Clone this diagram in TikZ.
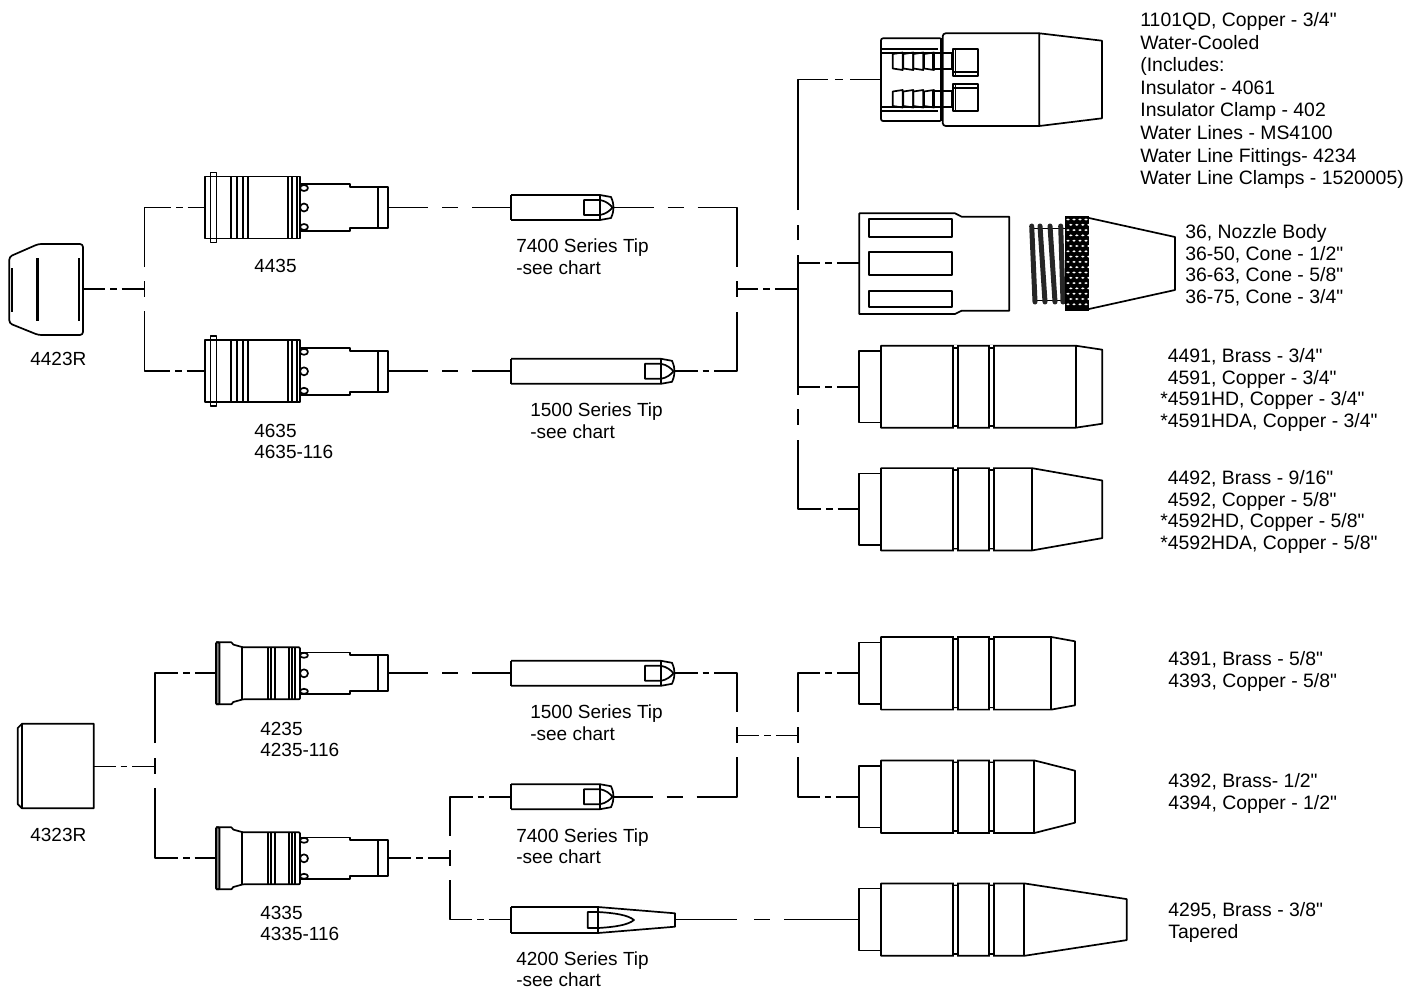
\documentclass[tikz,border=0pt]{standalone}
\usepackage{fontspec}
\newfontfamily\partfont{Liberation Sans}
\usepackage{tikz}

\tikzset{
    partlabel/.style={font=\partfont\fontsize{19pt}{21.5pt}\selectfont, align=left, anchor=north west, inner sep=0pt},
    listlabel/.style={partlabel, font=\partfont\fontsize{19.4pt}{21.5pt}\selectfont},
    widelabel/.style={partlabel, font=\partfont\fontsize{19.4pt}{22.6pt}\selectfont},
    shortlink/.style={dash pattern=on #1pt off 5pt on 6.5pt off 5pt on 999pt},
    longlink/.style={dash pattern=on #1pt off 14pt on 16pt off 14pt on 999pt},
    pics/bodylong/.style={code={
        \coordinate (-in) at (0,0);
        \coordinate (-out) at (183.3,0);
        \draw (0,-31) rectangle (95,31);
        \draw (5.5,-35) rectangle (11.5,35);
        \foreach \g in {25.7,32.3,38.3,43.3,83.3,86.7,91.7} {\draw (\g,-31) -- (\g,31);}
        \draw (99,-19.5) ellipse (4 and 3) (99,0) circle (4) (99,19.5) ellipse (4 and 3);
        \draw (95,-23.5) -- (145,-23.5) -- (145,-20.5) -- (183.3,-20.5) -- (183.3,20.5) -- (145,20.5) -- (145,23.5) -- (95,23.5);
        \draw (173.3,-20.5) -- (173.3,20.5);
    }},
    pics/bodyshort/.style={code={
        \coordinate (-in) at (0,0);
        \coordinate (-out) at (172.3,0);
        \draw[fill=gray, rounded corners=1pt] (0,-31) rectangle (3.5,31);
        \draw[rounded corners=1pt] (0,-31) -- (16.3,-31) -- (16.3,-29) -- (27,-26) -- (84,-26) -- (84,26) -- (27,26) -- (16.3,29) -- (16.3,31) -- (0,31);
        \foreach \g in {26.3,52.3,54.7,59,73.3,75.7,79} {\draw (\g,-26) -- (\g,26);}
        \draw (88,-18) ellipse (4 and 2.5) (88,0) circle (4) (88,18) ellipse (4 and 2.5);
        \draw (84,-20.7) -- (134,-20.7) -- (134,-18) -- (172.3,-18) -- (172.3,18) -- (134,18) -- (134,20.7) -- (84,20.7);
        \draw (162.3,-18) -- (162.3,18);
    }},
    pics/tipround/.style={code={
        \coordinate (-in) at (0,0);
        \coordinate (-out) at (#1+13.5,0);
        \draw[line width=2.5pt] (0,-12.5) -- (0,12.5);
        \draw (0,-12.5) -- (#1,-12.5) -- (#1+11,-10.5) .. controls (#1+13,-6) and (#1+13.5,-3) .. (#1+13.5,0) .. controls (#1+13.5,3) and (#1+13,6) .. (#1+11,10.5) -- (#1,12.5) -- (0,12.5);
        \draw (#1,-12.5) -- (#1,12.5);
        \draw (#1,-7.5) -- (#1-16,-7.5) -- (#1-16,7.5) -- (#1,7.5) .. controls (#1+6,6.5) and (#1+10,3) .. (#1+12.5,0) .. controls (#1+10,-3) and (#1+6,-6.5) .. (#1,-7.5);
    }},
    pics/nozzle/.style n args={5}{code={
        \coordinate (-in) at (0,0);
        \draw (0,-#1) rectangle (21.7,#1);
        \draw (21.7,-#2) -- (#3,-#2) -- (#4,-#5) -- (#4,#5) -- (#3,#2) -- (21.7,#2) -- cycle;
        \draw (#3,-#2) -- (#3,#2);
        \foreach \g in {94,99,129.7,134.7} {\draw (\g,-#2) -- (\g,#2);}
        \foreach \g in {94,129.7} {
            \draw[white, line width=2pt] (\g+0.9,-#2) -- (\g+4.1,-#2) (\g+0.9,#2) -- (\g+4.1,#2);
            \draw (\g,-#2+2) -- (\g+5,-#2+2) (\g,#2-2) -- (\g+5,#2-2);
        }
    }},
}

\begin{document}
\begin{tikzpicture}[x=1pt, y=-1pt, line width=1.7pt, line join=round]
    \useasboundingbox (0,0) rectangle (1413,990);

    % Gas cups
    \coordinate (CupA-out) at (83,289.3);
    \draw[rounded corners=3pt] (9.3,256.7) -- (38.3,244) -- (83,244) -- (83,335) -- (38.3,335) -- (9.3,323.3) -- cycle;
    \draw (12.3,268.3) -- (12.3,311.7);
    \draw[line width=2.5pt] (37.7,258.3) -- (37.7,320.7);
    \draw (79,258.3) -- (79,320.7);

    \coordinate (CupB-out) at (93.7,766.4);
    \draw (22,723.7) -- (93.7,723.7) -- (93.7,808.3) -- (22,808.3) -- (17.7,804) -- (17.7,728) -- cycle;
    \draw (22,723.7) -- (22,808.3);

    % Bodies
    \pic (BodyA) at (205,207.5) {bodylong};
    \pic (BodyB) at (205,371.3) {bodylong};
    \pic (BodyC) at (216,673.3) {bodyshort};
    \pic (BodyD) at (216,858.3) {bodyshort};

    % Tips
    \pic (TipA) at (511,207.5) {tipround=89};
    \pic (TipB) at (511,371.3) {tipround=150};
    \pic (TipC) at (511,673.3) {tipround=150};
    \pic (TipD) at (511,796.7) {tipround=89};

    \coordinate (TipE-in) at (511,919.6);
    \coordinate (TipE-out) at (675,919.6);
    \draw[line width=2.5pt] (511,907) -- (511,933);
    \draw (511,907) -- (598,907) -- (675,913.3) -- (675,926.7) -- (598,933) -- (511,933);
    \draw (598,907) -- (598,933);
    \draw (598,912) -- (587.7,912) -- (587.7,928) -- (598,928) .. controls (615,927) and (628,925) .. (634,920) .. controls (628,915) and (615,913) .. (598,912);

    % Nozzles
    \pic (NozzleC) at (859.3,386.7) {nozzle={35.8}{41}{216.4}{243}{37}};
    \pic (NozzleD) at (859.3,509.3) {nozzle={35.8}{41.2}{172.4}{243}{28.8}};
    \pic (NozzleE) at (859.3,673.3) {nozzle={30.7}{36.3}{192}{215.7}{32}};
    \pic (NozzleF) at (859.3,796.7) {nozzle={30.7}{36.3}{175}{215.7}{26}};
    \pic (NozzleG) at (859.3,919.6) {nozzle={31}{36.2}{165}{267.4}{20.5}};

    % Water-cooled nozzle
    \coordinate (NozzleA-in) at (881,79.6);
    \draw[rounded corners=2pt] (940.7,38.3) -- (881,38.3) -- (881,121) -- (940.7,121);
    \draw (940.7,38.3) -- (940.7,121);
    \draw[rounded corners=3pt] (1039.3,33.3) -- (942.7,33.3) -- (942.7,126) -- (1039.3,126);
    \draw (1039.3,33.3) -- (1102,40.7) -- (1102,118.3) -- (1039.3,126) -- cycle;
    \foreach \s in {1,-1}
    {
        \begin{scope}[shift={(0,80)}, yscale=\s]
            \draw (881,-30.7) -- (938,-30.7) (881,-27.3) -- (938,-27.3);
            \foreach \b in {892.7,903.3,913.3,924}
            {
                \draw (\b,-26) -- (\b+10,-27.5) -- (\b+10,-10) -- (\b,-11.5) -- cycle;
            }
            \draw (933.3,-27.3) rectangle (951.7,-11);
            \draw (953.3,-31.3) rectangle (978.3,-4);
            \draw (953.3,-8.3) -- (978.3,-8.3);
            \draw (955.5,-31.3) -- (955.5,-4);
        \end{scope}
    }

    % Nozzle body and cone
    \coordinate (NozzleB-in) at (859.3,263.3);
    \draw (859.3,213.3) -- (955,213.3) -- (961.7,216.7) -- (1009.3,216.7) -- (1009.3,310.7) -- (961.7,310.7) -- (955,314) -- (859.3,314) -- cycle;
    \draw (869,219.3) rectangle (951.7,236.7);
    \draw (869,251.7) rectangle (951.7,275);
    \draw (869,290.7) rectangle (951.7,307.3);
    \draw[line width=1pt] (1030,228) -- (1065,228) (1033,300) -- (1065,300);
    \foreach \a/\b in {1031.7/1035,1040/1045,1050/1055,1060.7/1063}
    {
        \draw[line width=5pt, line cap=round, black!85] (\a,226) -- (\b,302);
    }
    \draw (1089,218) -- (1175,237) -- (1175,290) -- (1089,309);
    \fill[black] (1065,216) rectangle (1089,310.7);
    \foreach \r in {0,...,16}
    {
        \foreach \c in {0,...,3}
        {
            \fill[white] ({1068+\c*6+mod(\r,2)*2.8},{219.5+\r*5.3}) ellipse (1.7 and 1);
        }
    }

    % Branch points
    \coordinate (TeeA) at (144.5,289.3);
    \coordinate (TeeA-up) at (144.5,267);
    \coordinate (TeeA-down) at (144.5,311);
    \coordinate (TeeB) at (737.3,289.3);
    \coordinate (TeeB-up) at (737.3,267.3);
    \coordinate (TeeB-down) at (737.3,311.7);
    \coordinate (TrunkA) at (798.3,289.3);
    \coordinate (TrunkA-top) at (798.3,255);
    \coordinate (TrunkA-bot) at (798.3,395);
    \coordinate (TeeC) at (155,766.4);
    \coordinate (TeeC-up) at (155,743);
    \coordinate (TeeC-down) at (155,788.3);
    \coordinate (TeeD) at (737.3,735.4);
    \coordinate (TeeD-up) at (737.3,712.3);
    \coordinate (TeeD-down) at (737.3,757.3);
    \coordinate (TeeE) at (798.3,735.4);
    \coordinate (TeeE-up) at (798.3,712.3);
    \coordinate (TeeE-down) at (798.3,757.3);
    \coordinate (TeeF) at (449.7,858.3);
    \coordinate (TeeF-up) at (449.7,835.7);
    \coordinate (TeeF-down) at (449.7,880);

    \foreach \t in {TeeA,TeeB,TeeC,TeeD,TeeE,TeeF}
    {
        \draw ([yshift=8pt]\t) -- ([yshift=-8pt]\t);
    }

    % Top connections
    \draw[shortlink=22] (CupA-out) -- (TeeA);
    \draw[shortlink=86] (TeeA-up) |- (BodyA-in);
    \draw[shortlink=86] (TeeA-down) |- (BodyB-in);
    \draw[longlink=40] (BodyA-out) -- (TipA-in);
    \draw[longlink=40] (BodyB-out) -- (TipB-in);
    \draw[longlink=40] (TipA-out) -| (TeeB-up);
    \draw[shortlink=23] (TipB-out) -| (TeeB-down);
    \draw[shortlink=21] (TeeB) -- (TrunkA);
    \draw (TrunkA-top) -- (TrunkA-bot);
    \draw[shortlink=22] (TrunkA-top |- NozzleB-in) -- (NozzleB-in);
    \draw[shortlink=22] (TrunkA-top |- NozzleC-in) -- (NozzleC-in);
    \draw[dash pattern=on 0pt off 15pt on 15pt off 15pt on 160pt off 7pt on 8pt off 7.5pt on 999pt] (TrunkA-top) |- (NozzleA-in);
    \draw[dash pattern=on 0pt off 14pt on 16pt off 15pt on 92pt off 5pt on 6.5pt off 5pt on 999pt] (TrunkA-bot) |- (NozzleD-in);

    % Bottom connections
    \draw[shortlink=22] (CupB-out) -- (TeeC);
    \draw[shortlink=93] (TeeC-up) |- (BodyC-in);
    \draw[shortlink=93] (TeeC-down) |- (BodyD-in);
    \draw[longlink=40] (BodyC-out) -- (TipC-in);
    \draw[shortlink=23] (BodyD-out) -- (TeeF);
    \draw[shortlink=62] (TeeF-up) |- (TipD-in);
    \draw[shortlink=62] (TeeF-down) |- (TipE-in);
    \draw[shortlink=23] (TipC-out) -| (TeeD-up);
    \draw[longlink=39] (TipD-out) -| (TeeD-down);
    \draw[shortlink=22] (TeeD) -- (TeeE);
    \draw[shortlink=61] (TeeE-up) |- (NozzleE-in);
    \draw[shortlink=61] (TeeE-down) |- (NozzleF-in);
    \draw[dash pattern=on 62pt off 17pt on 16pt off 14pt on 999pt] (TipE-out) -- (NozzleG-in);

    % Labels
    \node[partlabel] (LabelCupA) at (29.5,351) {4423R};
    \node[partlabel] (LabelCupB) at (29.5,827) {4323R};
    \node[partlabel] (LabelBodyA) at (253.5,258) {4435};
    \node[partlabel] (LabelBodyB) at (253.5,423) {4635\\4635-116};
    \node[partlabel] (LabelBodyC) at (259.5,721) {4235\\4235-116};
    \node[partlabel] (LabelBodyD) at (259.5,905) {4335\\4335-116};
    \node[partlabel] (LabelTipA) at (515.5,238) {7400 Series Tip\\-see chart};
    \node[partlabel] (LabelTipB) at (529.5,402) {1500 Series Tip\\-see chart};
    \node[partlabel] (LabelTipC) at (529.5,704) {1500 Series Tip\\-see chart};
    \node[partlabel] (LabelTipD) at (515.5,827.5) {7400 Series Tip\\-see chart};
    \node[partlabel] (LabelTipE) at (515.5,950.5) {4200 Series Tip\\-see chart};
    \node[widelabel] (LabelNozzleA) at (1139.5,11.5) {1101QD, Copper - 3/4"\\Water-Cooled\\(Includes:\\Insulator - 4061\\Insulator Clamp - 402\\Water Lines - MS4100\\Water Line Fittings- 4234\\Water Line Clamps - 1520005)};
    \node[listlabel] (LabelNozzleB) at (1184.5,224) {36, Nozzle Body\\36-50, Cone - 1/2"\\36-63, Cone - 5/8"\\36-75, Cone - 3/4"};
    \node[listlabel] (LabelNozzleC) at (1159.5,348) {\phantom{*}4491, Brass - 3/4"\\\phantom{*}4591, Copper - 3/4"\\*4591HD, Copper - 3/4"\\*4591HDA, Copper - 3/4"};
    \node[listlabel] (LabelNozzleD) at (1159.5,470) {\phantom{*}4492, Brass - 9/16"\\\phantom{*}4592, Copper - 5/8"\\*4592HD, Copper - 5/8"\\*4592HDA, Copper - 5/8"};
    \node[listlabel] (LabelNozzleE) at (1167.5,651) {4391, Brass - 5/8"\\4393, Copper - 5/8"};
    \node[listlabel] (LabelNozzleF) at (1167.5,773) {4392, Brass- 1/2"\\4394, Copper - 1/2"};
    \node[listlabel] (LabelNozzleG) at (1167.5,902) {4295, Brass - 3/8"\\Tapered};
\end{tikzpicture}
\end{document}
